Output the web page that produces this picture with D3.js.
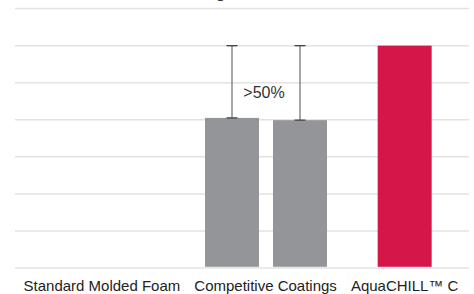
<!DOCTYPE html>
<html>
<head>
<meta charset="utf-8">
<script src="https://cdn.jsdelivr.net/npm/d3@7"></script>
<style>
  html, body { margin: 0; padding: 0; background: #fff; }
  svg { display: block; font-family: "Liberation Sans", Arial, Helvetica, sans-serif; }
</style>
</head>
<body>
<svg id="chart" width="474" height="294"></svg>
<script>
// data (y in grid units, 7 gridline steps)
const title = "Cooling Performance";
const categories = ["Standard Molded Foam", "Competitive Coatings", "AquaCHILL™ C"];
const barValues = [[], [4.05, 3.99], [6.0]];
const errorTop = [[], [6.0, 6.0], [null]];
const gridTicks = [0, 1, 2, 3, 4, 5, 6, 7];
const annotation = { category: "Competitive Coatings", value: 4.58, text: ">50%" };

const barColor = { "Competitive Coatings": "#939598", "AquaCHILL™ C": "#d41649" };

const svg = d3.select("#chart");

const y = d3.scaleLinear().domain([0, 7]).range([268, 8.6]);

const x0 = d3.scaleBand().domain(categories).range([58, 474]).padding(0);

// inner scale per category, centred on the category band
function innerScale(n) {
  return d3.scaleBand().domain(d3.range(n))
    .range([-n * 34, n * 34])
    .paddingInner(0.206).paddingOuter(0.103);
}

// title, mostly cut off at the top
svg.append("text")
  .attr("x", 247).attr("y", -2)
  .attr("text-anchor", "middle")
  .attr("font-size", 16).attr("font-weight", "bold")
  .attr("fill", "#333")
  .text(title);

// gridlines
svg.append("g").selectAll("line")
  .data(gridTicks)
  .enter().append("line")
  .attr("x1", 15).attr("x2", 469)
  .attr("y1", d => y(d)).attr("y2", d => y(d))
  .attr("stroke", "#e2e2e2")
  .attr("stroke-width", 1.5);

// bars
const groups = svg.append("g").selectAll(".grp")
  .data(categories)
  .enter().append("g")
  .attr("class", "grp")
  .attr("transform", d => "translate(" + (x0(d) + x0.bandwidth() / 2) + ",0)");

groups.each(function(cat, i) {
  const vals = barValues[i];
  const xi = innerScale(vals.length);
  const g = d3.select(this);
  g.selectAll("rect")
    .data(vals)
    .enter().append("rect")
    .attr("x", (d, j) => xi(j))
    .attr("width", xi.bandwidth())
    .attr("y", d => y(d))
    .attr("height", d => y(0) - y(d) - 1.2)
    .attr("fill", barColor[cat]);

  // one-sided error bars
  const errs = vals.map((v, j) => ({ j: j, lo: v, hi: errorTop[i][j] })).filter(e => e.hi != null);
  const eb = g.selectAll(".err").data(errs).enter().append("g").attr("class", "err");
  eb.append("line")
    .attr("x1", e => xi(e.j) + xi.bandwidth() / 2)
    .attr("x2", e => xi(e.j) + xi.bandwidth() / 2)
    .attr("y1", e => y(e.hi)).attr("y2", e => y(e.lo))
    .attr("stroke", "#777").attr("stroke-width", 1.3);
  [ "hi", "lo" ].forEach(k => {
    eb.append("line")
      .attr("x1", e => xi(e.j) + xi.bandwidth() / 2 - 5.5)
      .attr("x2", e => xi(e.j) + xi.bandwidth() / 2 + 5.5)
      .attr("y1", e => y(e[k])).attr("y2", e => y(e[k]))
      .attr("stroke", "#444").attr("stroke-width", 1.3);
  });
});

// annotation
svg.append("text")
  .attr("x", x0(annotation.category) + x0.bandwidth() / 2 - 2)
  .attr("y", y(annotation.value))
  .attr("text-anchor", "middle")
  .attr("font-size", 16)
  .attr("fill", "#333")
  .text(annotation.text);

// category labels, pushed left when they would overlap the next one
const labels = svg.append("g").selectAll("text")
  .data(categories)
  .enter().append("text")
  .attr("x", d => x0(d) + x0.bandwidth() / 2)
  .attr("y", 291)
  .attr("text-anchor", "middle")
  .attr("font-size", 15)
  .attr("fill", "#222")
  .text(d => d);

const nodes = labels.nodes();
for (let i = nodes.length - 2; i >= 0; i--) {
  const a = nodes[i].getBBox(), b = nodes[i + 1].getBBox();
  const overlap = a.x + a.width + 14 - b.x;
  if (overlap > 0) {
    d3.select(nodes[i]).attr("x", +d3.select(nodes[i]).attr("x") - overlap);
  }
}
</script>
</body>
</html>
